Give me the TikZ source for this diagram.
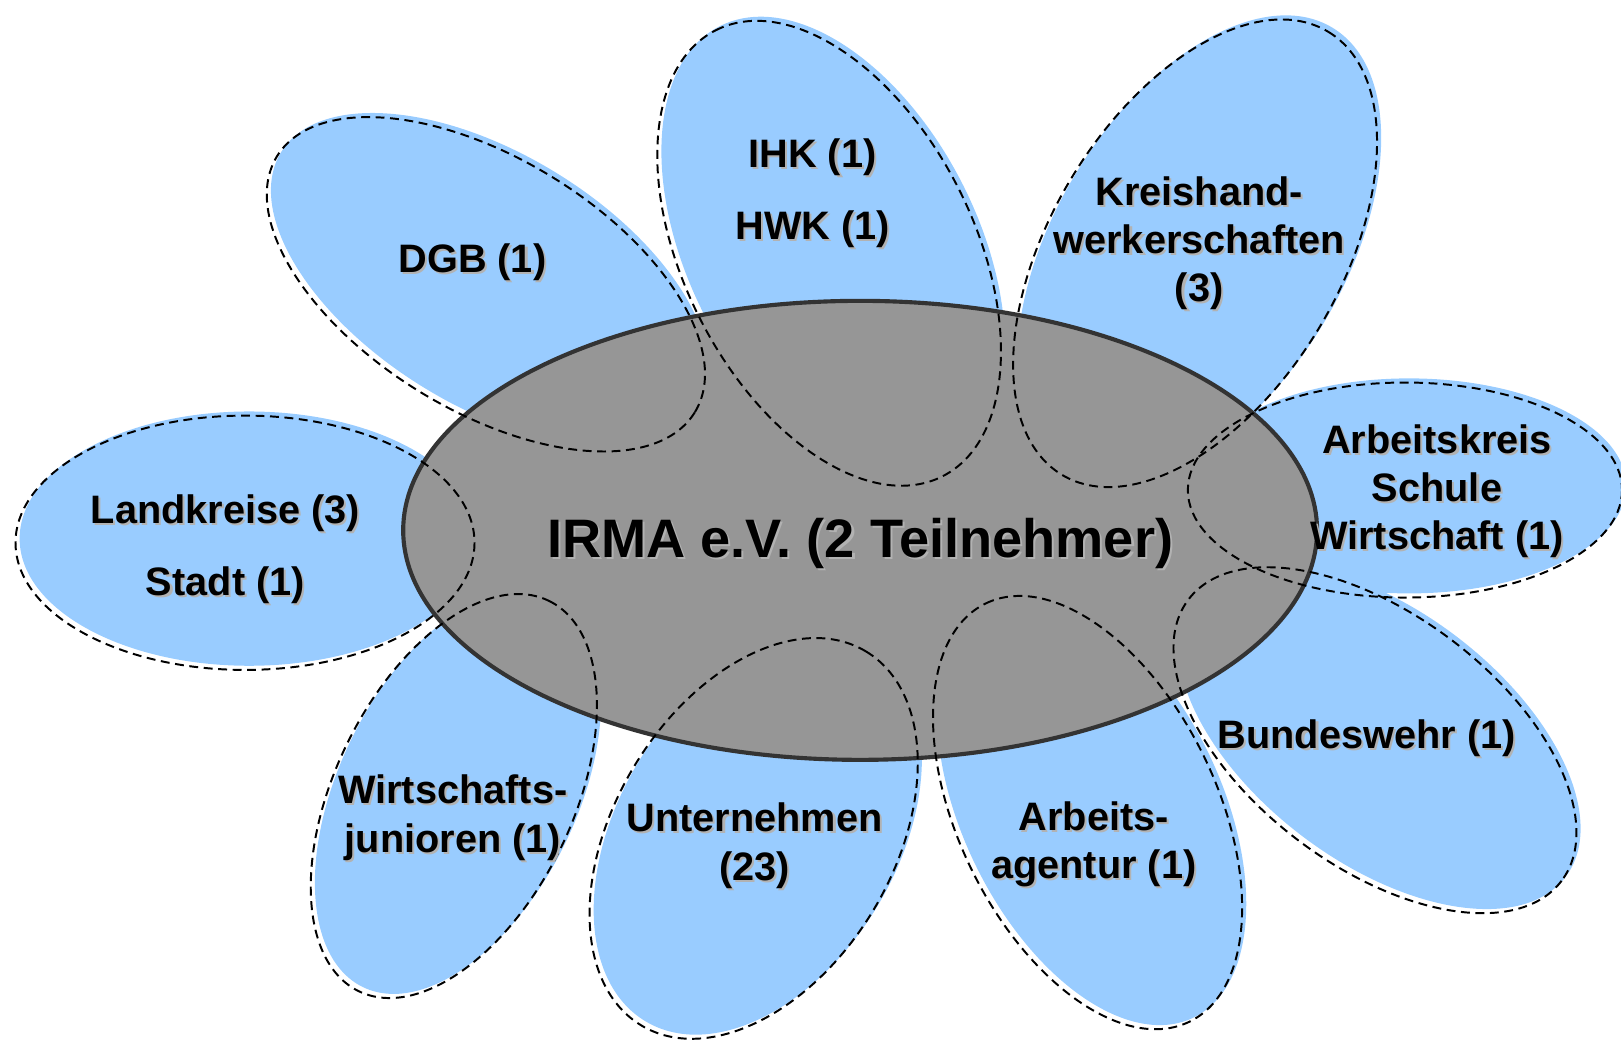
\documentclass[tikz,border=0pt]{standalone}
\usepackage{fontspec}
\setmainfont{Liberation Sans}
\definecolor{petal}{RGB}{153,204,255}
\definecolor{core}{RGB}{150,150,150}
\definecolor{coreline}{RGB}{51,51,51}
\definecolor{shade}{RGB}{178,178,178}
\newcommand{\sh}[1]{\rlap{\kern1pt\raisebox{-1pt}{\textcolor{shade}{#1}}}#1}
\begin{document}
\begin{tikzpicture}[x=0.5pt,y=-0.5pt,
  petalline/.style={draw=black,line width=0.95pt,dash pattern=on 4.3pt off 2.7pt},
  lbl/.style={font=\fontsize{19.2}{23.3}\selectfont\bfseries,align=center,inner sep=0pt},
  corelbl/.style={font=\fontsize{26.2}{30}\selectfont\bfseries,inner sep=0pt}]
\useasboundingbox (0,0) rectangle (1568,1008);
\def\petals{470/275/237/122/-31.5, 802/245/242/140/117, 1156/245/250/140/59,
  1359/474/210/104/0, 1330/716/226/122/-37, 1052/786/225/125/116,
  729/811/211/135/59, 439/770/210/115/64, 237/525/222/123/0}
% petal fills
\foreach \cx/\cy/\ra/\rb/\r in \petals {
  \fill[petal,rotate around={\r:(\cx+4,\cy-4)}] (\cx+4,\cy-4) ellipse ({\ra} and {\rb});
}
% core
\draw[fill=core,draw=coreline,line width=2pt] (832,513) ellipse (442 and 222);
% dashed petal outlines
\foreach \cx/\cy/\ra/\rb/\r in \petals {
  \draw[petalline,rotate around={\r:(\cx,\cy)}] (\cx,\cy) ellipse ({\ra} and {\rb});
}
% labels
\node[corelbl] (irma) at (832,527) {\sh{IRMA e.V. (2 Teilnehmer)}};
\node[lbl] (dgb) at (457,255) {\sh{DGB (1)}};
\node[lbl] (ihk) at (786,188) {\sh{IHK (1)}\\[11.7pt]\sh{HWK (1)}};
\node[lbl] (kreis) at (1160,236) {\sh{Kreishand-}\\\sh{werkerschaften}\\\sh{(3)}};
\node[lbl] (aks) at (1390,476) {\sh{Arbeitskreis}\\\sh{Schule}\\\sh{Wirtschaft (1)}};
\node[lbl] (bw) at (1322,715) {\sh{Bundeswehr (1)}};
\node[lbl] (aa) at (1058,818) {\sh{Arbeits-}\\\sh{agentur (1)}};
\node[lbl] (un) at (730,819) {\sh{Unternehmen}\\\sh{(23)}};
\node[lbl] (wj) at (438,792) {\sh{Wirtschafts-}\\\sh{junioren (1)}};
\node[lbl] (lk) at (218,532) {\sh{Landkreise (3)}\\[11.7pt]\sh{Stadt (1)}};
\end{tikzpicture}
\end{document}
